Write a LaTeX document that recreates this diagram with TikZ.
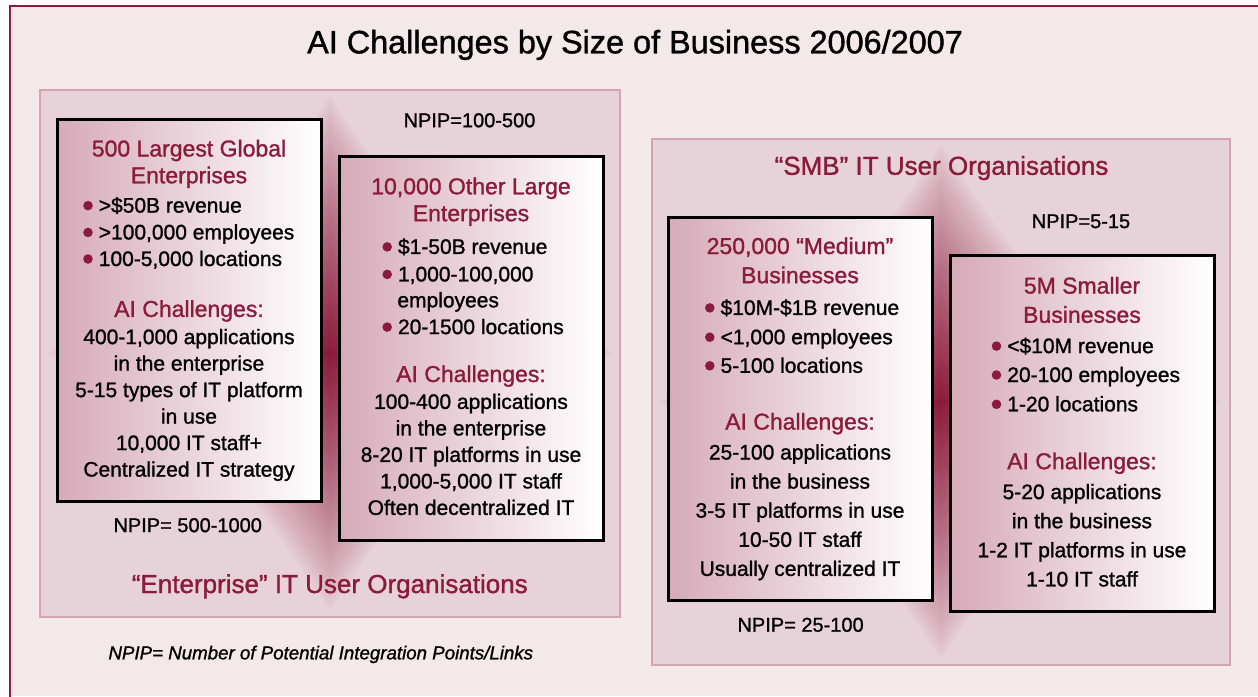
\documentclass[tikz,border=0pt]{standalone}
\usepackage{fontspec}
\setmainfont{Liberation Sans}[FakeBold=1.2]
\definecolor{orgred}{RGB}{139,27,61}
\definecolor{bgc}{RGB}{243,232,234}
\definecolor{panelc}{RGB}{232,210,217}
\definecolor{panelline}{RGB}{214,163,177}
\definecolor{boxl}{RGB}{214,170,185}
\newcommand{\bul}{\tikz[baseline=0pt,x=1pt,y=1pt]\fill[orgred] (4.5,7) circle (4.8);\hspace{6pt}}
\def\starglow(#1,#2)(#3,#4){%
  \foreach \i in {0,...,40}{%
    \pgfmathsetmacro\s{1-\i/41}%
    \pgfmathtruncatemacro\p{100*(\i/40)^0.85}%
    \fill[orgred!\p!panelc] (#1,#2-#4*\s) .. controls (#1+0.38*#3*\s,#2-0.38*#4*\s) .. (#1+#3*\s,#2)
      .. controls (#1+0.38*#3*\s,#2+0.38*#4*\s) .. (#1,#2+#4*\s)
      .. controls (#1-0.38*#3*\s,#2+0.38*#4*\s) .. (#1-#3*\s,#2)
      .. controls (#1-0.38*#3*\s,#2-0.38*#4*\s) .. cycle;
  }}
\tikzset{
  orgbox/.style={draw=black, line width=3pt, left color=boxl, right color=white, inner sep=0pt},
  panel/.style={fill=panelc, inner sep=0pt},
  boxtitle/.style={font=\fontsize{23}{27}\selectfont, text=orgred, anchor=base, inner sep=0pt},
  grouptitle/.style={font=\fontsize{26}{30}\selectfont, text=orgred, anchor=base, inner sep=0pt},
  body/.style={font=\fontsize{21}{25}\selectfont, anchor=base, inner sep=0pt},
  bulletline/.style={body, anchor=base west},
  npip/.style={font=\fontsize{20}{24}\selectfont, anchor=base, inner sep=0pt},
}
\begin{document}
\begin{tikzpicture}[x=1pt,y=-1pt]
			%%%%% START %%%%%
			\useasboundingbox (0,0) rectangle (1258,696);
			\fill[white] (0,0) rectangle (1258,696);
			\fill[bgc] (10,6) rectangle (1258,696);
			\draw[orgred, line width=2.5pt] (10,6) rectangle (1290,730);
			
			\node[font=\fontsize{32.4}{38}\selectfont, anchor=base, inner sep=0pt] (title) at (635,53.3) {AI Challenges by Size of Business 2006/2007};
			
			%%%%% enterprise panel %%%%%
			\node[panel, minimum width=580pt, minimum height=527pt] (entpanel) at (330,353.5) {};
			\begin{scope}
				\clip (entpanel.north west) rectangle (entpanel.south east);
				\starglow(330,353.5)(290,263.5)
			\end{scope}
			\draw[panelline, line width=2pt] (entpanel.north west) rectangle (entpanel.south east);
			
			\node[orgbox, minimum width=264pt, minimum height=382pt] (box1) at (189,310) {};
			\node[orgbox, minimum width=264pt, minimum height=384pt] (box2) at (471,348) {};
			
			\node[npip] (np1) at (469.5,127.2) {NPIP=100-500};
			\node[npip] (np2) at (187.7,532.1) {NPIP= 500-1000};
			\node[grouptitle] (entlabel) at (329.8,593) {“Enterprise” IT User Organisations};
			
			% 500 largest
			\node[boxtitle] (t1a) at (189,156.5) {500 Largest Global};
			\node[boxtitle] (t1b) at (189,183.3) {Enterprises};
			\node[bulletline] (i1a) at (83,212.6) {\bul>\$50B revenue};
			\node[bulletline] (i1b) at (83,239.4) {\bul>100,000 employees};
			\node[bulletline] (i1c) at (83,266) {\bul 100-5,000 locations};
			\node[boxtitle] (c1) at (189,316.9) {AI Challenges:};
			\foreach \txt [count=\i from 0] in {{400-1,000 applications},{in the enterprise},{5-15 types of IT platform},{in use},{10,000 IT staff+},{Centralized IT strategy}}
				\node[body] (b1-\i) at (189,344.1+26.5*\i) {\txt};
			
			% 10,000 other
			\node[boxtitle] (t2a) at (471,194.3) {10,000 Other Large};
			\node[boxtitle] (t2b) at (471,221.2) {Enterprises};
			\node[bulletline] (i2a) at (382.2,253.9) {\bul\$1-50B revenue};
			\node[bulletline] (i2b) at (382.2,281.4) {\bul 1,000-100,000};
			\node[bulletline] (i2c) at (397.2,307.3) {employees};
			\node[bulletline] (i2d) at (382.2,334.1) {\bul 20-1500 locations};
			\node[boxtitle] (c2) at (471,382) {AI Challenges:};
			\foreach \txt [count=\i from 0] in {{100-400 applications},{in the enterprise},{8-20 IT platforms in use},{1,000-5,000 IT staff},{Often decentralized IT}}
				\node[body] (b2-\i) at (471,408.9+26.5*\i) {\txt};
			
			%%%%% SMB panel %%%%%
			\node[panel, minimum width=578pt, minimum height=526pt] (smbpanel) at (941,402) {};
			\begin{scope}
				\clip (smbpanel.north west) rectangle (smbpanel.south east);
				\starglow(941,402)(289,263)
			\end{scope}
			\draw[panelline, line width=2pt] (smbpanel.north west) rectangle (smbpanel.south east);
			
			\node[orgbox, minimum width=264pt, minimum height=383pt] (box3) at (800,408.5) {};
			\node[orgbox, minimum width=264pt, minimum height=356pt] (box4) at (1082,433) {};
			
			\node[grouptitle] (smblabel) at (941.5,174.8) {“SMB” IT User Organisations};
			\node[npip] (np3) at (1081,228.1) {NPIP=5-15};
			\node[npip] (np4) at (800.6,631.7) {NPIP= 25-100};
			
			% medium
			\node[boxtitle] (t3a) at (800,254) {250,000 “Medium”};
			\node[boxtitle] (t3b) at (800,283.2) {Businesses};
			\node[bulletline] (i3a) at (704.8,314.9) {\bul\$10M-\$1B revenue};
			\node[bulletline] (i3b) at (704.8,344.2) {\bul<1,000 employees};
			\node[bulletline] (i3c) at (704.8,372.8) {\bul 5-100 locations};
			\node[boxtitle] (c3) at (800,429.6) {AI Challenges:};
			\foreach \txt [count=\i from 0] in {{25-100 applications},{in the business},{3-5 IT platforms in use},{10-50 IT staff},{Usually centralized IT}}
				\node[body] (b3-\i) at (800,459.5+29.1*\i) {\txt};
			
			% smaller
			\node[boxtitle] (t4a) at (1082,293.6) {5M Smaller};
			\node[boxtitle] (t4b) at (1082,322.8) {Businesses};
			\node[bulletline] (i4a) at (991.5,353.1) {\bul<\$10M revenue};
			\node[bulletline] (i4b) at (991.5,382) {\bul 20-100 employees};
			\node[bulletline] (i4c) at (991.5,411.3) {\bul 1-20 locations};
			\node[boxtitle] (c4) at (1082,469.2) {AI Challenges:};
			\foreach \txt [count=\i from 0] in {{5-20 applications},{in the business},{1-2 IT platforms in use},{1-10 IT staff}}
				\node[body] (b4-\i) at (1082,499.1+29.1*\i) {\txt};
			
			\node[font=\fontsize{18.7}{22}\selectfont\itshape, anchor=base, inner sep=0pt] (note) at (320.8,659.3) {NPIP= Number of Potential Integration Points/Links};
			%%%%% END %%%%%
\end{tikzpicture}
\end{document}
